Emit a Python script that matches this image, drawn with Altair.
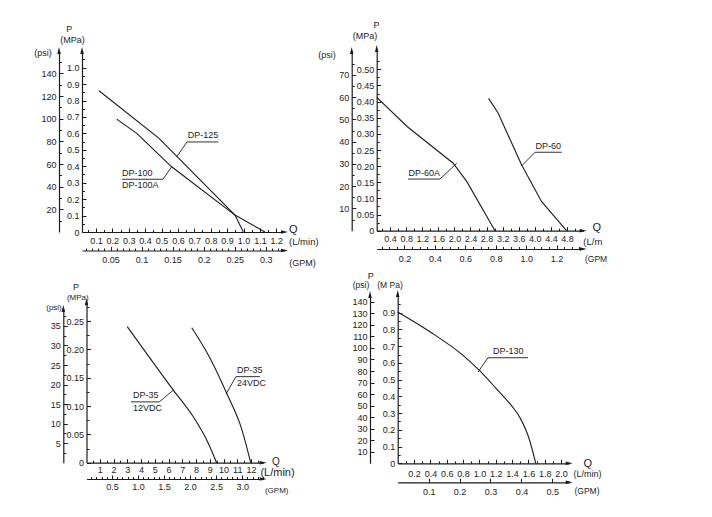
import altair as alt
import pandas as pd

MPA_TO_PSI = 145.038
GPM_TO_LPM = 3.78541
INK = "#1c1c1c"
FONT = "Liberation Sans"

# ---------------- data (Q in L/min, P in MPa) ----------------
# Panel 1
p1_dp125_q = [0.119, 0.485, 0.948, 0.999]
p1_dp125_p = [0.860, 0.570, 0.103, 0.000]
p1_dp100_q = [0.227, 0.349, 0.562, 0.948, 1.131]
p1_dp100_p = [0.687, 0.600, 0.397, 0.103, 0.000]
# Panel 2
p2_dp60a_q = [0.07, 0.83, 1.97, 2.31, 3.01]
p2_dp60a_p = [0.413, 0.322, 0.209, 0.152, 0.000]
p2_dp60_q = [2.85, 3.09, 3.67, 4.17, 4.79]
p2_dp60_p = [0.410, 0.364, 0.204, 0.090, 0.000]
# Panel 3
p3_12v_q = [3.00, 6.35, 7.80, 8.78, 9.50]
p3_12v_p = [0.240, 0.128, 0.081, 0.040, 0.000]
p3_24v_q = [7.69, 9.03, 10.24, 11.34, 11.98]
p3_24v_p = [0.238, 0.184, 0.122, 0.058, 0.000]
# Panel 4
p4_dp130_q = [0.00, 0.40, 0.80, 1.00, 1.20, 1.40, 1.50, 1.60, 1.69]
p4_dp130_p = [0.905, 0.785, 0.645, 0.555, 0.450, 0.340, 0.270, 0.160, 0.000]

# leader lines (data units) and label anchors
p1_leaders = {"a": ([0.845, 0.655, 0.593], [0.548, 0.548, 0.458]),
              "b": ([0.259, 0.509, 0.562], [0.321, 0.321, 0.397])}
p1_above = [("DP-125", 0.660, 0.548), ("DP-100", 0.259, 0.321)]
p1_below = [("DP-100A", 0.259, 0.321)]

p2_leaders = {"a": ([0.846, 1.642, 2.057], [0.160, 0.160, 0.209]),
              "b": ([4.67, 4.007, 3.674], [0.243, 0.243, 0.201])}
p2_above = [("DP-60A", 0.86, 0.160), ("DP-60", 4.02, 0.243)]
p2_below = []

p3_leaders = {"a": ([3.27, 5.33, 6.35], [0.1073, 0.1073, 0.128]),
              "b": ([12.65, 10.90, 10.18], [0.1518, 0.1518, 0.1207])}
p3_above = [("DP-35", 3.42, 0.1073), ("DP-35", 10.98, 0.1518)]
p3_below = [("12VDC", 3.42, 0.1073), ("24VDC", 10.98, 0.1518)]

p4_leaders = {"a": ([1.595, 1.105, 0.983], [0.631, 0.631, 0.545])}
p4_above = [("DP-130", 1.166, 0.631)]
p4_below = []

ONE = pd.DataFrame({"k": [0]})
O = 8            # page margin
WW, HH = 696, 501


def ticks(step, lo, hi):
    return [round(i * step, 6) for i in range(int(round(lo / step)), int(round(hi / step)) + 1)]


def is_major(step):
    return f"abs(datum.value / {step} - round(datum.value / {step})) < 0.001"


def lab_expr(step, fmt, zero_label):
    e = f"({is_major(step)}) ? format(datum.value, '{fmt}') : ''"
    if zero_label:
        e = f"datum.value == 0 ? '0' : ({e})"
    return e


COMMON = dict(domainColor=INK, domainWidth=1.2, tickColor=INK, tickWidth=1,
              labelColor=INK, labelFont=FONT, labelFontSize=9, grid=False, title=None,
              labelOverlap=False, labelFlush=False, labelBound=False)


def y_axis(values, step, fmt, page_x, zero_label=False):
    return alt.Axis(orient="right", offset=(page_x - O) - WW, values=values,
                    labelExpr=lab_expr(step, fmt, zero_label),
                    tickSize={"condition": {"test": is_major(step), "value": 4}, "value": 2.5},
                    labelPadding=-7, labelAlign="right", labelBaseline="middle", **COMMON)


def x_axis(values, step, fmt, page_y, below):
    return alt.Axis(orient="top", offset=-(page_y - O), values=values,
                    labelExpr=lab_expr(step, fmt, False),
                    tickSize={"condition": {"test": is_major(step), "value": 4}, "value": 2.5},
                    labelPadding=-(4 + below), labelAlign="center", labelBaseline="top", **COMMON)


def curves_df(series):
    rows = []
    for name, qs, ps in series:
        for q, p in zip(qs, ps):
            rows.append({"q": q, "p": p, "s": name})
    return pd.DataFrame(rows)


def leaders_df(leaders):
    rows = []
    for k, (qs, ps) in leaders.items():
        for i, (q, p) in enumerate(zip(qs, ps)):
            rows.append({"q": q, "p": p, "id": k, "o": i})
    return pd.DataFrame(rows)


def labels_df(items):
    return pd.DataFrame([{"t": t, "q": q, "p": p} for t, q, p in items])


def text_px(text, x, y, size=9, align="center"):
    return alt.Chart(ONE).mark_text(text=text, align=align, baseline="middle", font=FONT,
                                    fontSize=size, color=INK).encode(x=alt.value(x - O), y=alt.value(y - O))


UP = "M0,-1L0.5,1L-0.5,1Z"
RIGHT = "M1,0L-1,0.5L-1,-0.5Z"


def arrow(x, y, shape):
    return alt.Chart(ONE).mark_point(shape=shape, filled=True, size=49, color=INK, opacity=1,
                                     strokeWidth=0).encode(x=alt.value(x - O), y=alt.value(y - O))


def panel(s, series, leaders, above, below, titles, interp):
    qa = (s["ax"] - s["x0"]) / s["xpx"]
    qb = (s["xend"] - s["x0"]) / s["xpx"]
    pb = (s["y0"] - s["ytop"]) / s["ypx"]
    xs = alt.Scale(domain=[qa, qb], range=[s["ax"] - O, s["xend"] - O], nice=False, zero=False)
    ys = alt.Scale(domain=[0, pb], range=[s["y0"] - O, s["ytop"] - O], nice=False, zero=False)
    lpm, mpa, psi, gpm = s["lpm"], s["mpa"], s["psi"], s["gpm"]
    X = alt.X("q:Q", scale=xs, axis=x_axis(lpm[0], lpm[1], lpm[2], s["y0"], lpm[3]))
    Y = alt.Y("p:Q", scale=ys, axis=y_axis(mpa[0], mpa[1], mpa[2], s["ax"], True))
    layers = [
        alt.Chart(curves_df(series)).mark_line(color=INK, strokeWidth=1.1, interpolate=interp)
        .encode(x=X, y=Y, detail="s:N"),
        alt.Chart(leaders_df(leaders)).mark_line(color=INK, strokeWidth=0.9)
        .encode(x=X, y=Y, detail="id:N", order="o:Q"),
        alt.Chart(labels_df(above)).mark_text(align="left", baseline="bottom", dy=-1.5, font=FONT,
                                              fontSize=9, color=INK).encode(x=X, y=Y, text="t:N"),
    ]
    if below:
        layers.append(alt.Chart(labels_df(below)).mark_text(align="left", baseline="top", dy=2,
                                                            font=FONT, fontSize=9, color=INK)
                      .encode(x=X, y=Y, text="t:N"))
    main = alt.layer(*layers)

    G = alt.X("g:Q", scale=alt.Scale(domain=[qa / GPM_TO_LPM, qb / GPM_TO_LPM],
                                     range=[s["ax"] - O, s["xend"] - O], nice=False, zero=False),
              axis=x_axis(gpm[0], gpm[1], gpm[2], s["gpm_y"], gpm[3]))
    smax = (s["y0"] - s["psi_top"]) / s["ypx"] * MPA_TO_PSI
    S = alt.Y("ps:Q", scale=alt.Scale(domain=[0, smax], range=[s["y0"] - O, s["psi_top"] - O],
                                      nice=False, zero=False),
              axis=y_axis(psi[0], psi[1], psi[2], s["psi_x"], False))
    dummy = alt.Chart(pd.DataFrame({"g": [qa / GPM_TO_LPM], "ps": [0.0]})).mark_point(opacity=0).encode(x=G, y=S)

    deco = [text_px(*t) for t in titles]
    deco += [arrow(s["ax"], s["ytop"], UP), arrow(s["psi_x"], s["psi_top"], UP),
             arrow(s["xend"], s["y0"], RIGHT), arrow(s["xend"], s["gpm_y"], RIGHT)]
    return [main, dummy, alt.layer(*deco)]


S1 = dict(x0=79.5, xpx=164.0, ax=82, xend=284.5, y0=232, ypx=164.3, ytop=50.5,
          psi_x=59, psi_top=50.5, gpm_y=250.5,
          lpm=(ticks(0.05, 0.05, 1.2), 0.1, ".1f", 4.1),
          mpa=(ticks(0.05, 0, 1.05), 0.1, ".1f"),
          psi=(ticks(10, 10, 150), 20, "d"),
          gpm=(ticks(0.01, 0.01, 0.32), 0.05, "~g", 4.5))
S2 = dict(x0=374.0, xpx=40.2, ax=376.7, xend=583.2, y0=230.7, ypx=322.8, ytop=48.5,
          psi_x=351.7, psi_top=50.5, gpm_y=249,
          lpm=(ticks(0.2, 0.2, 5.0), 0.4, ".1f", 3.7),
          mpa=(ticks(0.025, 0, 0.525), 0.05, ".2f"),
          psi=(ticks(5, 5, 75), 10, "d"),
          gpm=(ticks(0.05, 0.05, 1.35), 0.2, ".1f", 5.4))
S3 = dict(x0=86.0, xpx=13.75, ax=86.5, xend=263.2, y0=462.7, ypx=566.8, ytop=301.8,
          psi_x=63.3, psi_top=308.5, gpm_y=479,
          lpm=(ticks(0.5, 0.5, 12.5), 1, "d", 2.7),
          mpa=(ticks(0.025, 0, 0.275), 0.05, ".2f"),
          psi=(ticks(2.5, 2.5, 37.5), 5, "d"),
          gpm=(ticks(0.1, 0.1, 3.4), 0.5, ".1f", 3))
S4 = dict(x0=397.7, xpx=81.7, ax=397.7, xend=569.2, y0=463.3, ypx=167.3, ytop=293.5,
          psi_x=370, psi_top=294.5, gpm_y=482.3,
          lpm=(ticks(0.1, 0.1, 2.0), 0.2, ".1f", 6),
          mpa=(ticks(0.05, 0, 0.95), 0.1, ".1f"),
          psi=(ticks(10, 10, 140), 10, "d"),
          gpm=(ticks(0.1, 0.1, 0.5), 0.1, ".1f", 5.5))

groups = []
groups += panel(S1, [("DP-125", p1_dp125_q, p1_dp125_p), ("DP-100", p1_dp100_q, p1_dp100_p)],
                p1_leaders, p1_above, p1_below,
                [("P", 69.3, 29.3), ("(MPa)", 72.5, 40), ("(psi)", 42.9, 53.3), ("Q", 293.3, 230, 11),
                 ("(L/min)", 303.8, 242.3, 9.5), ("(GPM)", 302.5, 263.3)],
                "linear")
groups += panel(S2, [("DP-60A", p2_dp60a_q, p2_dp60a_p), ("DP-60", p2_dp60_q, p2_dp60_p)],
                p2_leaders, p2_above, p2_below,
                [("P", 376.5, 25), ("(MPa)", 365, 35.5), ("(psi)", 327, 55), ("Q", 596.7, 228.3, 11),
                 ("(L/m", 583.3, 241.7, 9.5, "left"), ("(GPM", 585, 259.3, 8.5, "left")],
                "linear")
groups += panel(S3, [("12VDC", p3_12v_q, p3_12v_p), ("24VDC", p3_24v_q, p3_24v_p)],
                p3_leaders, p3_above, p3_below,
                [("P", 76, 286.7), ("(MPa)", 77.8, 298.3, 8), ("(psi)", 54, 308.3, 8), ("Q", 276, 461.7, 10),
                 ("(L/min)", 277.5, 472.7, 11), ("(GPM)", 276.7, 490.7, 8)],
                "monotone")
groups += panel(S4, [("DP-130", p4_dp130_q, p4_dp130_p)],
                p4_leaders, p4_above, p4_below,
                [("P", 370.7, 276), ("(psi)", 361, 285, 8.5), ("(M Pa)", 390, 285, 8.5), ("Q", 587.7, 464, 11),
                 ("(L/min)", 587.5, 474.3, 9), ("(GPM)", 587, 490.7, 8.5)],
                "monotone")

chart = (alt.layer(*groups)
         .resolve_scale(x="independent", y="independent")
         .properties(width=WW, height=HH, autosize=alt.AutoSizeParams(type="none"),
                     padding=0, background="white")
         .configure_view(stroke="transparent"))

chart.save("out.html", embed_options={"renderer": "svg", "actions": False})
